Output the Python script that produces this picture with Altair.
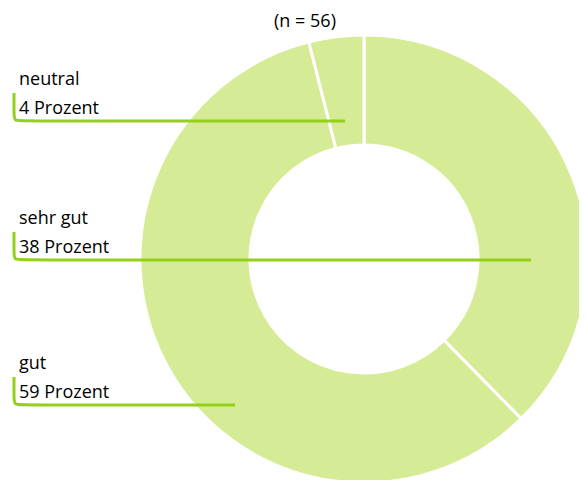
import altair as alt
import pandas as pd

# ---- data ----
categories = ["sehr gut", "gut", "neutral"]
percents = [38, 59, 4]
sample_note = "(n = 56)"

# ---- layout (page pixels) ----
W, H = 571, 480
M = 8
CX, CY = 364, 259
R_OUT, R_IN = 224, 114
line_y = {"neutral": 121, "sehr gut": 260, "gut": 405}
line_end = {"neutral": 345, "sehr gut": 531, "gut": 235}
FILL = "#d6eb95"
LINE = "#94cf1c"
FONT = "Open Sans"
FS = 18

df = pd.DataFrame({"cat": categories, "pct": percents, "ord": range(len(categories))})

xs = alt.Scale(domain=[0, W], nice=False, zero=False)
ys = alt.Scale(domain=[0, H], nice=False, zero=False, reverse=True)

arc = alt.Chart(df).mark_arc(
    outerRadius=R_OUT, innerRadius=R_IN, stroke="white", strokeWidth=3
).encode(
    theta=alt.Theta("pct:Q", stack=True),
    order=alt.Order("ord:Q"),
    x=alt.value(CX - M),
    y=alt.value(CY - M),
    color=alt.value(FILL),
)

# leader lines (annotation)
rows = []
for c in categories:
    ly = line_y[c] - M
    lx = 14 - M
    top = ly - 28
    pts = [(lx, top), (lx, top), (lx, ly - 8), (lx, ly), (lx + 8, ly),
           (line_end[c] - M, ly), (line_end[c] - M, ly)]
    for i, (px, py) in enumerate(pts):
        rows.append({"cat": c, "i": i, "px": px, "py": py})
lines = alt.Chart(pd.DataFrame(rows)).mark_line(
    interpolate="basis", color=LINE, strokeWidth=3
).encode(
    x=alt.X("px:Q", scale=xs, axis=None),
    y=alt.Y("py:Q", scale=ys, axis=None),
    detail="cat:N",
    order="i:Q",
)

tdf = df.copy()
tdf["y1"] = [line_y[c] - M - 36 for c in categories]
tdf["y2"] = [line_y[c] - M - 7 for c in categories]
tdf["tx"] = 19 - M
tdf["val"] = [f"{p} Prozent" for p in percents]

t1 = alt.Chart(tdf).mark_text(
    align="left", baseline="alphabetic", font=FONT, fontSize=FS, color="#000000"
).encode(x=alt.X("tx:Q", scale=xs), y=alt.Y("y1:Q", scale=ys), text="cat:N")
t2 = alt.Chart(tdf).mark_text(
    align="left", baseline="alphabetic", font=FONT, fontSize=FS, color="#000000"
).encode(x=alt.X("tx:Q", scale=xs), y=alt.Y("y2:Q", scale=ys), text="val:N")

note = alt.Chart(pd.DataFrame({"t": [sample_note]})).mark_text(
    align="center", baseline="alphabetic", font=FONT, fontSize=FS, color="#000000"
).encode(x=alt.value(305 - M), y=alt.value(27 - M), text="t:N")

chart = alt.layer(arc, lines, t1, t2, note).properties(
    width=W, height=H, padding=0, autosize=alt.AutoSizeParams(type="none")
).configure_view(stroke=None)

chart.save("out.html", embed_options={"renderer": "svg", "actions": False})
